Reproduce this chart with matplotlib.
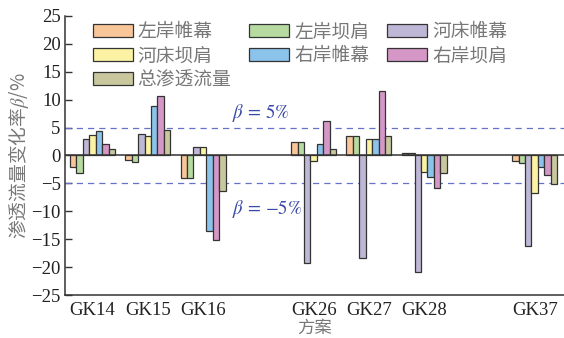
import matplotlib
matplotlib.use("Agg")
import matplotlib.pyplot as plt
import matplotlib.transforms as mtransforms
import numpy as np

plt.rcParams['mathtext.fontset'] = 'stix'

# Schemes (group positions leave gaps between scheme families)
schemes = ['GK14', 'GK15', 'GK16', 'GK26', 'GK27', 'GK28', 'GK37']
positions = [0, 1, 2, 4, 5, 6, 8]

series_names = ['左岸帷幕', '左岸坝肩', '河床帷幕', '河床坝肩', '右岸帷幕', '右岸坝肩', '总渗透流量']
left_curtain   = [-2.0, -0.8, -4.0,   2.45,  3.5,   0.4, -1.0]
left_abutment  = [-3.1, -1.2, -4.0,   2.45,  3.5,   0.4, -1.3]
river_curtain  = [ 3.0,  3.9,  1.5, -19.2, -18.3, -20.8, -16.3]
river_abutment = [ 3.6,  3.5,  1.5,  -1.0,   3.0,  -2.9, -6.75]
right_curtain  = [ 4.4,  8.9, -13.5,  2.0,   3.0,  -3.8, -2.1]
right_abutment = [ 2.0, 10.6, -15.2,  6.2,  11.5,  -5.9, -3.5]
total_seepage  = [ 1.2,  4.5,  -6.3,  1.2,   3.4,  -3.1, -5.1]

series = [left_curtain, left_abutment, river_curtain, river_abutment,
          right_curtain, right_abutment, total_seepage]
colors = ['#F8C698', '#B7DAA0', '#BFB7D6', '#FBF3A3', '#8CC3EA', '#D497C6', '#C8C79E']

yticks = [25, 20, 15, 10, 5, 0, -5, -10, -15, -20, -25]

fig = plt.figure(figsize=(5.64, 3.38), dpi=100)
ax = fig.add_axes([0.115, 0.127, 0.885, 0.826])

width = 0.1164
pos = np.array(positions, dtype=float)
handles = []
for i, (vals, c, name) in enumerate(zip(series, colors, series_names)):
    b = ax.bar(pos + (i - 3) * width, vals, width=width, color=c,
               edgecolor='#333333', linewidth=0.9, label=name, zorder=3)
    handles.append(b)

ax.axhline(0, color='#333333', linewidth=1.1, zorder=4)
ax.axhline(5, color='#6672c8', linewidth=0.9, linestyle=(0, (5, 4)), zorder=2)
ax.axhline(-5, color='#6672c8', linewidth=0.9, linestyle=(0, (5, 4)), zorder=2)

ax.text(2.52, 7.6, r'$\beta\,=\,5\%$', color='#3b4aa8', fontsize=13.5, ha='left', va='center')
ax.text(2.52, -9.6, r'$\beta\,=\,{-}5\%$', color='#3b4aa8', fontsize=13.5, ha='left', va='center')

ax.set_xlim(-0.5, 8.53)
ax.set_ylim(-25, 25)
ax.set_yticks(yticks)
ax.set_xticks(pos)
ax.set_xticklabels(schemes)

for lab in ax.get_xticklabels() + ax.get_yticklabels():
    lab.set_fontfamily('Liberation Serif')
    lab.set_fontsize(13.5)
    lab.set_color('#222222')

# scheme names sit slightly right of their bar groups
shift = mtransforms.ScaledTranslation(4 / 100, 0, fig.dpi_scale_trans)
for lab in ax.get_xticklabels():
    lab.set_transform(lab.get_transform() + shift)

ax.tick_params(axis='y', direction='in', length=5, width=1, pad=3, colors='#333333',
               labelcolor='#222222')
ax.tick_params(axis='x', length=0, pad=5)

for s in ['top', 'right']:
    ax.spines[s].set_visible(False)
for s in ['left', 'bottom']:
    ax.spines[s].set_color('#333333')
    ax.spines[s].set_linewidth(1.1)

cjk = ['Noto Sans CJK SC', 'DejaVu Sans']
ax.set_ylabel('渗透流量变化率$\\beta$/%', family=cjk, fontsize=13.5, color='#777777', labelpad=0)
ax.set_xlabel('方案', family=cjk, fontsize=12.5, color='#777777', labelpad=0)

# legend ordered so that rows read across in series order (column-major fill)
order = [0, 3, 6, 1, 4, 2, 5]
leg = ax.legend([handles[k] for k in order], [series_names[k] for k in order],
                ncol=3, loc='upper left', bbox_to_anchor=(0.0555, 0.98),
                frameon=False, borderpad=0, borderaxespad=0,
                handlelength=2.15, handleheight=0.7, handletextpad=0.25,
                labelspacing=0.15, columnspacing=0.95,
                prop={'family': cjk, 'size': 13.5})
for t in leg.get_texts():
    t.set_color('#777777')

fig.savefig('out.png', dpi=100)
